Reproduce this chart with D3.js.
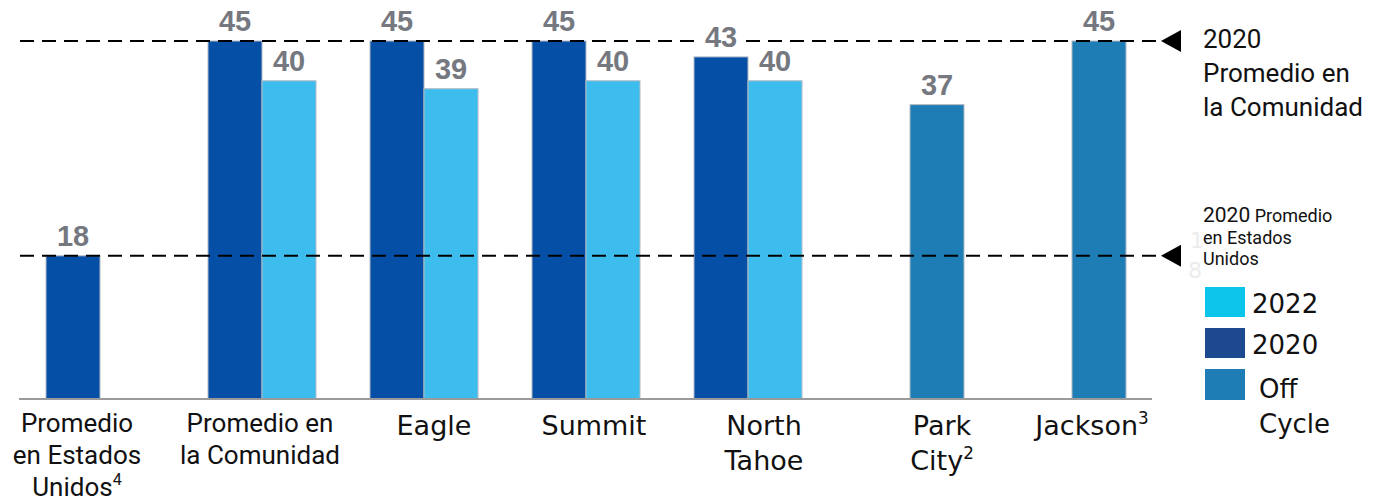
<!DOCTYPE html>
<html>
<head>
<meta charset="utf-8">
<script src="https://cdn.jsdelivr.net/npm/d3@7"></script>
<style>
  html, body { margin: 0; padding: 0; background: #fff; }
  svg { display: block; }
</style>
</head>
<body>
<svg id="chart" width="1380" height="501"></svg>
<script>
// ---- Data ----
const categories = ["US", "Comunidad", "Eagle", "Summit", "NorthTahoe", "ParkCity", "Jackson"];
const categoryLabels = [
  ["Promedio", "en Estados", "Unidos|4"],
  ["Promedio en", "la Comunidad"],
  ["Eagle"],
  ["Summit"],
  ["North", "Tahoe"],
  ["Park", "City|2"],
  ["Jackson|3"]
];
const values2020 = [18, 45, 45, 45, 43, null, null];
const values2022 = [null, 40, 39, 40, 40, null, null];
const valuesOffCycle = [null, null, null, null, null, 37, 45];
const refLineValues = [45, 18];
const refLineLabels = [
  [["2020", 26], ["Promedio en", 26], ["la Comunidad", 26]],
  [["2020", 21, " Promedio", 18], ["en Estados", 18], ["Unidos", 18]]
];
const legendLabels = [["2022"], ["2020"], ["Off", "Cycle"]];

// ---- Layout / style (not data) ----
const colors = { y2020: "#0550a6", y2022: "#3dbdee", off: "#1f7db5" };
const legendColors = ["#0dc4ea", "#1d4a8f", "#1f7db5"];
const labelFonts = ["Roboto", "Roboto", "DejaVu Sans", "DejaVu Sans", "DejaVu Sans", "DejaVu Sans", "DejaVu Sans"];
const labelDx = [-23, -2, 10, 8, 16, 32, 20];

const svg = d3.select("#chart");
const x0 = d3.scaleBand().domain(categories).range([19, 19 + 162 * 7]).padding(0);
const x1 = d3.scaleBand().domain(["2020", "2022"]).range([27, 135]).padding(0);
const y = d3.scaleLinear().domain([0, 45]).range([399, 41]);

// bars
const bars = [];
categories.forEach((c, i) => {
  if (values2020[i] != null) bars.push({ c, slot: "2020", v: values2020[i], color: colors.y2020 });
  if (values2022[i] != null) bars.push({ c, slot: "2022", v: values2022[i], color: colors.y2022 });
  if (valuesOffCycle[i] != null) bars.push({ c, slot: "2022", v: valuesOffCycle[i], color: colors.off });
});

svg.append("g").selectAll("rect").data(bars).join("rect")
  .attr("x", d => x0(d.c) + x1(d.slot))
  .attr("y", d => y(d.v))
  .attr("width", x1.bandwidth())
  .attr("height", d => y(0) - y(d.v))
  .attr("fill", d => d.color)
  .attr("stroke", "#b4bac4")
  .attr("stroke-width", 1);

// baseline axis
const axis = d3.axisBottom(x0).tickSize(0).tickFormat("");
const ag = svg.append("g").attr("transform", `translate(0,${y(0)})`).call(axis);
ag.select(".domain").attr("stroke", "#9a9a9a").attr("stroke-width", 2)
  .attr("d", `M19,0H1152`);

// reference dashed lines + triangles
refLineValues.forEach((v, k) => {
  const yy = y(v);
  svg.append("line")
    .attr("x1", 20).attr("x2", 1156)
    .attr("y1", yy).attr("y2", yy)
    .attr("stroke", "#000").attr("stroke-width", 2)
    .attr("stroke-dasharray", "14,8");
  svg.append("path")
    .attr("d", `M1161,${yy}L1181,${yy - 11}L1181,${yy + 11}Z`)
    .attr("fill", "#000");
});

// value labels (with white backing box, drawn above the lines)
const vl = svg.append("g").selectAll("g").data(bars).join("g")
  .attr("transform", d => `translate(${x0(d.c) + x1(d.slot) + x1.bandwidth() / 2},${y(d.v) - 10})`);
vl.append("rect")
  .attr("x", -22).attr("y", -23).attr("width", 44).attr("height", 27)
  .attr("fill", "#fff");
vl.append("text")
  .attr("text-anchor", "middle")
  .attr("font-family", "Liberation Sans, Arial, sans-serif")
  .attr("font-weight", "bold")
  .attr("font-size", 29)
  .attr("fill", "#75787f")
  .text(d => d.v);

// category labels
categories.forEach((c, i) => {
  const cx = x0(c) + x0.bandwidth() / 2 + labelDx[i];
  const isRoboto = labelFonts[i] === "Roboto";
  const fs = isRoboto ? 26 : 27;
  const lh = isRoboto ? 32 : 35;
  const base = isRoboto ? 432 : 435;
  categoryLabels[i].forEach((line, j) => {
    const [main, sup] = line.split("|");
    const t = svg.append("text")
      .attr("x", cx)
      .attr("y", base + j * lh)
      .attr("text-anchor", "middle")
      .attr("font-family", labelFonts[i])
      .attr("font-size", fs)
      .attr("fill", "#111");
    t.append("tspan").text(main);
    if (sup) t.append("tspan").attr("dy", -11).attr("font-size", fs * 0.62).text(sup);
  });
});

// reference labels
const refBase = [48, 222];
const refLH = [34, 21.5];
refLineLabels.forEach((lines, k) => {
  lines.forEach((ln, j) => {
    const t = svg.append("text")
      .attr("x", 1203)
      .attr("y", refBase[k] + j * refLH[k])
      .attr("font-family", "Roboto")
      .attr("fill", "#111");
    t.append("tspan").attr("font-size", ln[1]).text(ln[0]);
    if (ln[2]) t.append("tspan").attr("font-size", ln[3]).text(ln[2]);
  });
});

// faint ghost glyphs
svg.append("text").attr("x", 1190).attr("y", 248).attr("font-family", "DejaVu Sans")
  .attr("font-size", 22).attr("fill", "#ececec").text("1");
svg.append("text").attr("x", 1188).attr("y", 278).attr("font-family", "DejaVu Sans")
  .attr("font-size", 22).attr("fill", "#ececec").text("8");

// legend
const legY = [287, 328, 369];
legendLabels.forEach((lines, i) => {
  svg.append("rect")
    .attr("x", 1205).attr("y", legY[i])
    .attr("width", 40).attr("height", i === 2 ? 31 : 30)
    .attr("fill", legendColors[i]);
  lines.forEach((ln, j) => {
    svg.append("text")
      .attr("x", i === 2 ? 1259 : 1252)
      .attr("y", legY[i] + 26 + j * 35 + (i === 2 ? 3 : 0))
      .attr("font-family", "DejaVu Sans")
      .attr("font-size", 26)
      .attr("fill", "#111")
      .text(ln);
  });
});
</script>
</body>
</html>
